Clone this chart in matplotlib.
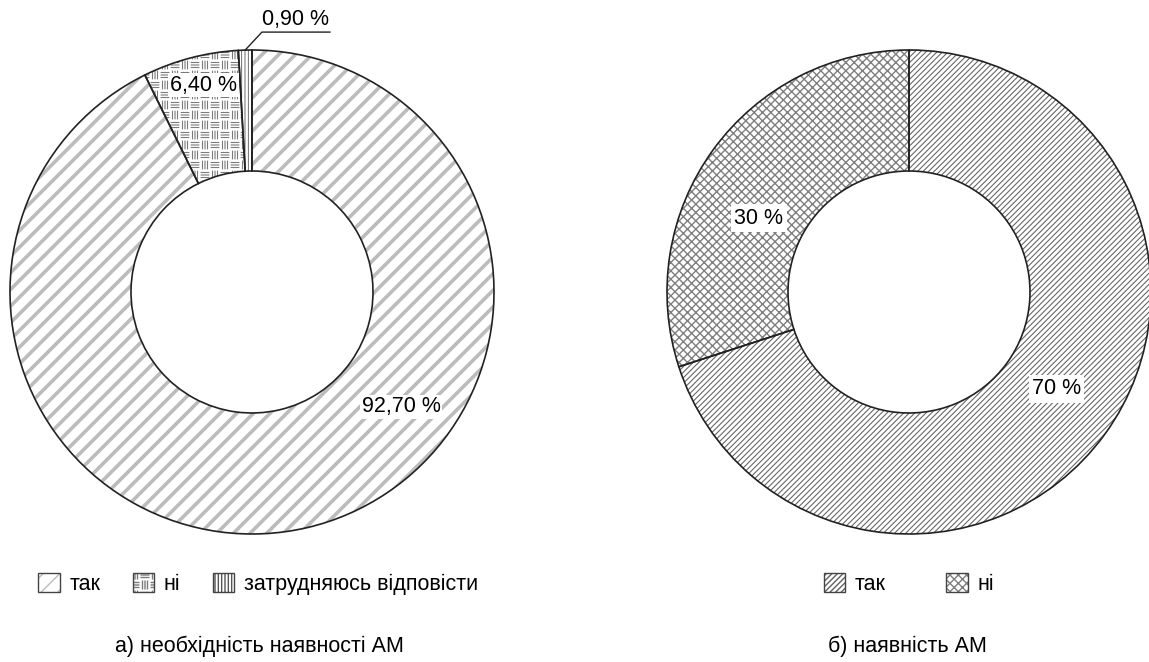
import numpy as np
import matplotlib
matplotlib.use("Agg")
import matplotlib.pyplot as plt
import matplotlib.patches as mpatches
from matplotlib import hatch as mhatch
from matplotlib.path import Path
from matplotlib.legend_handler import HandlerTuple

# ---------------- data ----------------
cats_a = ['так', 'ні', 'затрудняюсь відповісти']
vals_a = [92.7, 6.4, 0.9]
labels_a = ['92,70 %', '6,40 %', '0,90 %']
title_a = 'а) необхідність наявності АМ'

cats_b = ['так', 'ні']
vals_b = [70, 30]
labels_b = ['70 %', '30 %']
title_b = 'б) наявність АМ'


# ------------- custom basket-weave hatch (replaces '*') -------------
class BasketHatch(mhatch.HatchPatternBase):
    def __init__(self, hatch, density):
        self.n = 10 if '*' in hatch else 0
        self.num_vertices = self.n * self.n * 3 * 2

    def set_vertices_and_codes(self, vertices, codes):
        n = self.n
        s = 1.0 / n
        k = 0
        for i in range(n):
            for j in range(n):
                x0, y0 = i * s, j * s
                for t in (0.25, 0.5, 0.75):
                    if (i + j) % 2 == 0:
                        vertices[k] = (x0 + 0.12 * s, y0 + t * s)
                        vertices[k + 1] = (x0 + 0.88 * s, y0 + t * s)
                    else:
                        vertices[k] = (x0 + t * s, y0 + 0.12 * s)
                        vertices[k + 1] = (x0 + t * s, y0 + 0.88 * s)
                    codes[k] = Path.MOVETO
                    codes[k + 1] = Path.LINETO
                    k += 2


mhatch._hatch_types = [h for h in mhatch._hatch_types if h is not mhatch.Stars] + [BasketHatch]

plt.rcParams['font.family'] = ['Liberation Sans', 'DejaVu Sans']
FS = 15.5

W, H = 1149, 662
fig = plt.figure(figsize=(W / 100, H / 100), dpi=100)

R = 242
def make_ax(cx, cy):
    ax = fig.add_axes([(cx - R) / W, (H - cy - R) / H, 2 * R / W, 2 * R / H])
    ax.set_xlim(-1, 1)
    ax.set_ylim(-1, 1)
    ax.axis('off')
    return ax

# styles
styles_a = [dict(hatch='//', color='#bcbcbc', lw=2.6),
            dict(hatch='*', color='#7a7a7a', lw=0.8),
            dict(hatch='|||||', color='#555555', lw=0.6)]
styles_b = [dict(hatch='//////', color='#606060', lw=0.75),
            dict(hatch='xxxx', color='#7f7f7f', lw=1.0)]

EDGE = '#222222'


def draw_donut(ax, vals, styles):
    hw, _ = ax.pie(vals, startangle=90, counterclock=False, radius=1,
                   wedgeprops=dict(width=0.5, facecolor='white', linewidth=0))
    for w, st in zip(hw, styles):
        w.set_edgecolor(st['color'])
        w.set_linewidth(0)
        w.set_hatch(st['hatch'])
        if hasattr(w, 'set_hatch_linewidth'):
            w.set_hatch_linewidth(st['lw'])
    ew, _ = ax.pie(vals, startangle=90, counterclock=False, radius=1,
                   wedgeprops=dict(width=0.5, facecolor='none', edgecolor=EDGE, linewidth=1.2))
    ax.set_xlim(-1, 1)
    ax.set_ylim(-1, 1)
    return hw, ew


def legend_handles(styles):
    hs = []
    for st in styles:
        p = mpatches.Patch(facecolor='white', edgecolor=st['color'], hatch=st['hatch'], linewidth=0)
        if hasattr(p, 'set_hatch_linewidth'):
            p.set_hatch_linewidth(st['lw'])
        b = mpatches.Patch(facecolor='none', edgecolor='#444444', linewidth=1.0)
        hs.append((p, b))
    return hs


# ---------------- left donut ----------------
axA = make_ax(252, 292)
hwA, ewA = draw_donut(axA, vals_a, styles_a)
pos_a = [(0.616, -0.475), (-0.20, 0.855), (0.178, 1.124)]
for lab, (x, y), i in zip(labels_a, pos_a, range(3)):
    bb = dict(boxstyle='square,pad=0.08', facecolor='white', edgecolor='none') if i < 2 else None
    axA.text(x, y, lab, ha='center', va='center', fontsize=FS, bbox=bb, clip_on=False, zorder=5)
# leader line for the smallest slice
w3 = ewA[2]
mid = np.deg2rad((w3.theta1 + w3.theta2) / 2)
axA.plot([np.cos(mid), 0.041, 0.322], [np.sin(mid), 1.074, 1.074],
         color=EDGE, lw=1.0, clip_on=False, zorder=5)

# ---------------- right donut ----------------
axB = make_ax(909, 292)
hwB, ewB = draw_donut(axB, vals_b, styles_b)
pos_b = [(0.61, -0.40), (-0.62, 0.305)]
for lab, (x, y) in zip(labels_b, pos_b):
    axB.text(x, y, lab, ha='center', va='center', fontsize=FS,
             bbox=dict(boxstyle='square,pad=0.15', facecolor='white', edgecolor='none'), zorder=5)

# ---------------- legends ----------------
common = dict(loc='center', frameon=False, fontsize=FS, handlelength=1.0, handleheight=1.0,
              handletextpad=0.45, handler_map={tuple: HandlerTuple(ndivide=1)})
legA = fig.legend(legend_handles(styles_a), cats_a, bbox_to_anchor=(258 / W, 1 - 584 / H),
                  ncol=3, columnspacing=1.5, **common)
legB = fig.legend(legend_handles(styles_b), cats_b, bbox_to_anchor=(909 / W, 1 - 584 / H),
                  ncol=2, columnspacing=2.8, **common)

# ---------------- captions ----------------
fig.text(259 / W, 1 - 646 / H, title_a, ha='center', va='center', fontsize=FS)
fig.text(907 / W, 1 - 646 / H, title_b, ha='center', va='center', fontsize=FS)

fig.savefig('out.png', dpi=100, facecolor='white')
